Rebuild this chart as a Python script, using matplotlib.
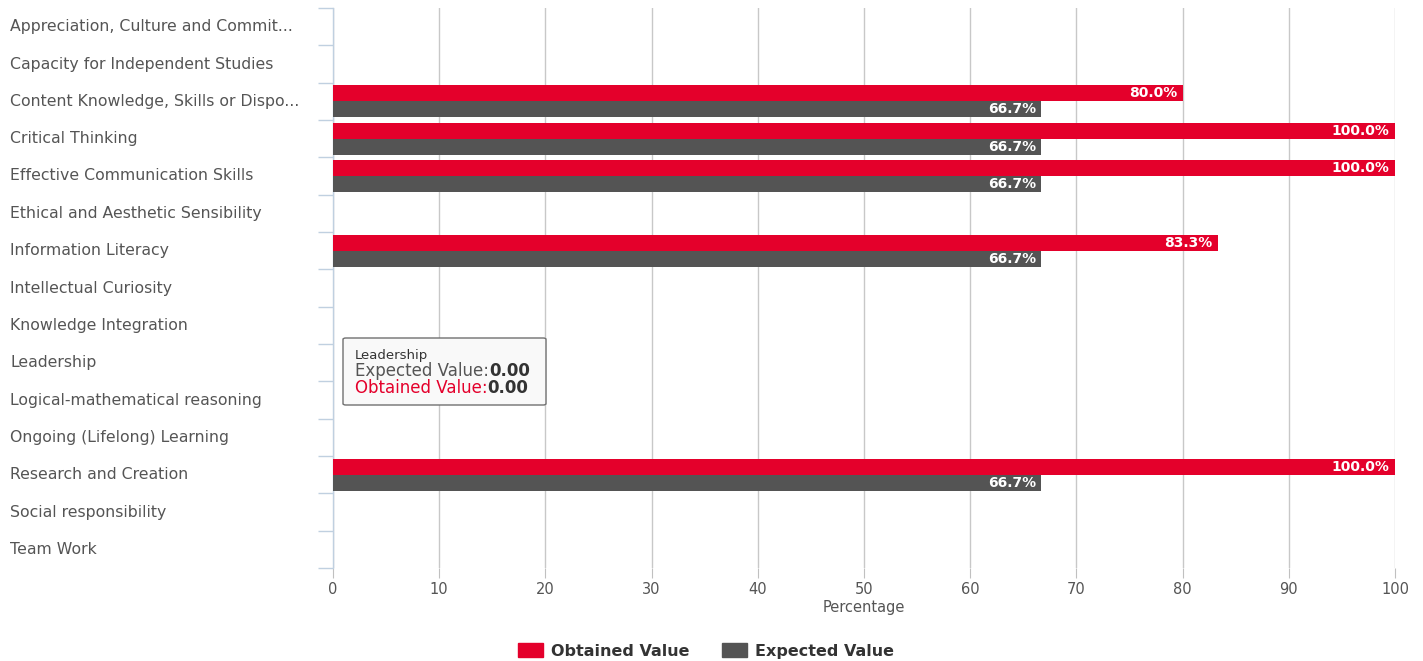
import matplotlib
matplotlib.use("Agg")
import matplotlib.pyplot as plt
from matplotlib.patches import Patch, FancyBboxPatch
import numpy as np

categories = [
    "Appreciation, Culture and Commit...",
    "Capacity for Independent Studies",
    "Content Knowledge, Skills or Dispo...",
    "Critical Thinking",
    "Effective Communication Skills",
    "Ethical and Aesthetic Sensibility",
    "Information Literacy",
    "Intellectual Curiosity",
    "Knowledge Integration",
    "Leadership",
    "Logical-mathematical reasoning",
    "Ongoing (Lifelong) Learning",
    "Research and Creation",
    "Social responsibility",
    "Team Work",
]
obtained = [0, 0, 80.0, 100.0, 100.0, 0, 83.3, 0, 0, 0, 0, 0, 100.0, 0, 0]
expected = [0, 0, 66.7, 66.7, 66.7, 0, 66.7, 0, 0, 0, 0, 0, 66.7, 0, 0]
x_ticks = [0, 10, 20, 30, 40, 50, 60, 70, 80, 90, 100]

RED = "#E4002B"
GRAY = "#545454"
TXT = "#555555"

plt.rcParams['font.family'] = ['DejaVu Sans']

fig = plt.figure(figsize=(14.23, 6.61), dpi=100)
ax = fig.add_axes([333/1423, 1 - 568/661, (1395-333)/1423, (568-8)/661])

n = len(categories)
y = np.arange(n)
h = 0.43
ax.barh(y - h/2, obtained, height=h, color=RED, zorder=3)
ax.barh(y + h/2, expected, height=h, color=GRAY, zorder=3)

for yi, v in zip(y, obtained):
    if v > 0:
        ax.annotate(f"{v:.1f}%", xy=(v, yi - h/2), xytext=(-4, 0), textcoords="offset points",
                    ha="right", va="center", color="white", fontsize=10, fontweight="bold", zorder=4)
for yi, v in zip(y, expected):
    if v > 0:
        ax.annotate(f"{v:.1f}%", xy=(v, yi + h/2), xytext=(-4, 0), textcoords="offset points",
                    ha="right", va="center", color="white", fontsize=10, fontweight="bold", zorder=4)

ax.set_xlim(0, 100)
ax.set_ylim(n - 0.5, -0.5)
ax.set_xticks(x_ticks)
ax.set_xticklabels([str(t) for t in x_ticks], color=TXT, fontsize=10.5)
ax.tick_params(axis='x', length=7, color="#C0C0C0", pad=3)
ax.grid(axis='x', color="#C8C8C8", linewidth=1, zorder=0)
ax.set_xlabel("Percentage", color=TXT, fontsize=10.5, labelpad=2)

ax.set_yticks(y)
ax.set_yticklabels(categories, color=TXT, fontsize=11.3)
for lbl in ax.get_yticklabels():
    lbl.set_horizontalalignment('left')
    lbl.set_verticalalignment('center')
ax.tick_params(axis='y', which='major', length=0, pad=(333-10)*0.72)
ax.set_yticks(np.arange(n + 1) - 0.5, minor=True)
ax.tick_params(axis='y', which='minor', length=11, color="#C0D0E0", width=1)

for s in ['top', 'right', 'bottom']:
    ax.spines[s].set_visible(False)
ax.spines['left'].set_color("#C0D0E0")
ax.spines['left'].set_linewidth(1)

# Tooltip
tx0, ty0 = 343/1423, 1 - 405/661
tw, th = (546-343)/1423, (405-338)/661
box = FancyBboxPatch((tx0, ty0), tw, th, boxstyle="round,pad=0,rounding_size=0.002",
                     transform=fig.transFigure, facecolor="#F9F9F9", edgecolor="#707070",
                     linewidth=1, zorder=10)
fig.patches.append(box)
fig.text(355/1423, 1 - 355/661, "Leadership", fontsize=9.5, color="#333333", va="center", zorder=11)
t1 = fig.text(355/1423, 1 - 371/661, "Expected Value:", fontsize=12, color="#555555", va="center", zorder=11)
fig.canvas.draw()
bb = t1.get_window_extent()
fig.text(bb.x1/1423, 1 - 371/661, "0.00", fontsize=12, color="#333333", fontweight="bold", va="center", zorder=11)
t2 = fig.text(355/1423, 1 - 388/661, "Obtained Value:", fontsize=12, color=RED, va="center", zorder=11)
bb2 = t2.get_window_extent()
fig.text(bb2.x1/1423, 1 - 388/661, "0.00", fontsize=12, color="#333333", fontweight="bold", va="center", zorder=11)

handles = [Patch(facecolor=RED, edgecolor=RED, label="Obtained Value"),
           Patch(facecolor=GRAY, edgecolor=GRAY, label="Expected Value")]
fig.legend(handles=handles, loc="center", bbox_to_anchor=(706/1423, 1 - 651/661), ncol=2,
           frameon=False, prop={'weight': 'bold', 'size': 11.5}, labelcolor="#333333",
           handlelength=1.6, handleheight=1.0, columnspacing=2.0, handletextpad=0.5)

fig.savefig("out.png", dpi=100)
